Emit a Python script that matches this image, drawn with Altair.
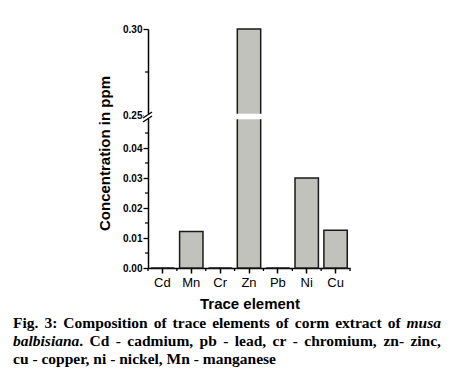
import altair as alt
import pandas as pd

# ---------------- data ----------------
elements = ["Cd", "Mn", "Cr", "Zn", "Pb", "Ni", "Cu"]
concentration = [0.0, 0.0122, 0.0, 0.30, 0.0, 0.030, 0.0126]

y_major_values = [0.0, 0.01, 0.02, 0.03, 0.04, 0.25, 0.30]
y_minor_values = [0.005, 0.015, 0.025, 0.035, 0.045, 0.275]
break_low = 0.05
break_high = 0.25
y_top = 0.30

x_title = "Trace element"
y_title = "Concentration in ppm"
# caption lines: words; "*" marks italic parts, "|" splits a word into parts
caption_line1 = ["Fig.", "3:", "Composition", "of", "trace", "elements", "of", "corm",
                 "extract", "of", "*musa"]
caption_line2 = ["*balbisiana|.", "Cd", "-", "cadmium,", "pb", "-", "lead,", "cr", "-",
                 "chromium,", "zn-", "zinc,"]
caption_line3 = "cu - copper, ni - nickel, Mn - manganese"

df = pd.DataFrame({"element": elements, "value": concentration})
minor_df = pd.DataFrame({"v": y_minor_values})
one = pd.DataFrame({"k": [0]})

# ---------------- layout ----------------
W, H = 202, 239
PAD_L, PAD_T = 140, 21
OX, OY = 8 + PAD_L, 8 + PAD_T  # page position of plot origin
SERIF = "Liberation Serif"
SANS = "Liberation Sans"
CAP_SIZE = 15.5
CAP_LEFT, CAP_RIGHT = 13, 441

# Times bold / bold-italic advance widths (per 1000 em) for justification
TB = {" ": 250, ".": 250, ",": 250, ":": 333, "-": 333, "3": 500, "F": 611, "C": 722,
      "M": 944, "a": 500, "b": 556, "c": 444, "d": 556, "e": 444, "f": 333, "g": 500,
      "h": 556, "i": 278, "k": 556, "l": 278, "m": 833, "n": 556, "o": 500, "p": 556,
      "r": 444, "s": 389, "t": 333, "u": 556, "x": 500, "z": 444}
TBI = {"a": 500, "b": 500, "i": 278, "l": 278, "m": 778, "n": 556, "s": 389, "u": 556}


def word_parts(w):
    parts = []
    for p in w.split("|"):
        if p.startswith("*"):
            parts.append((p[1:], True))
        else:
            parts.append((p, False))
    return parts


def part_width(text, italic):
    table = TBI if italic else TB
    return sum(table.get(ch, 500) for ch in text) / 1000 * CAP_SIZE


def justify(words):
    items = []
    parts_list = [word_parts(w) for w in words]
    widths = [sum(part_width(t, it) for t, it in ps) for ps in parts_list]
    gap = (CAP_RIGHT - CAP_LEFT - sum(widths)) / (len(words) - 1)
    x = CAP_LEFT
    for ps, w in zip(parts_list, widths):
        px = x
        for t, it in ps:
            items.append((t, it, px))
            px += part_width(t, it)
        x += w + gap
    return items


xscale = alt.Scale(domain=elements, paddingInner=0, paddingOuter=0)
yscale = alt.Scale(domain=[0, break_low, break_high, y_top],
                   range=[H, 89, 86, 0], nice=False, zero=False)

xaxis = alt.Axis(title=None, labelAngle=0, labelFont=SANS, labelFontSize=13,
                 labelColor="black", tickColor="black", domainColor="black",
                 tickSize=5, tickWidth=1.5, domainWidth=1.5, labelPadding=3,
                 grid=False)
yaxis = alt.Axis(title=None, values=y_major_values, tickCount=50, labelOverlap=False,
                 format=".2f", labelFont=SANS, labelFontSize=10, labelFontWeight="bold",
                 labelColor="black", tickColor="black", domainColor="black",
                 tickSize=5, tickWidth=1.3, domainWidth=1.5, labelPadding=1, grid=False)

bars = alt.Chart(df).mark_bar(
    width=alt.RelativeBandSize(0.81), fill="#c2c2bc", stroke="#1a1a1a", strokeWidth=1.5
).encode(
    x=alt.X("element:N", scale=xscale, sort=elements, axis=xaxis),
    y=alt.Y("value:Q", scale=yscale, axis=yaxis),
    y2=alt.datum(0),
)

gap = alt.Chart(df).transform_filter("datum.element == 'Zn'").mark_bar(
    width=alt.RelativeBandSize(0.81), fill="white", stroke="white", strokeWidth=2.5
).encode(
    x=alt.X("element:N", scale=xscale, sort=elements),
    y=alt.datum(break_low),
    y2=alt.datum(break_high),
)

minor_y = alt.Chart(minor_df).mark_rule(color="black", strokeWidth=1.2).encode(
    y=alt.Y("v:Q", scale=yscale), x=alt.value(-3), x2=alt.value(0))

axis_gap = alt.Chart(one).mark_rect(fill="white").encode(
    x=alt.value(-4), x2=alt.value(4),
    y=alt.value(85), y2=alt.value(90),
)

slash1 = alt.Chart(one).mark_rule(color="black", strokeWidth=1.3).encode(
    x=alt.value(-5), x2=alt.value(4), y=alt.value(89), y2=alt.value(83))
slash2 = alt.Chart(one).mark_rule(color="black", strokeWidth=1.3).encode(
    x=alt.value(-5), x2=alt.value(4), y=alt.value(93), y2=alt.value(87))

minor_x = alt.Chart(df).mark_rule(color="black", strokeWidth=1.3).encode(
    x=alt.X("element:N", scale=xscale, sort=elements, bandPosition=0),
    y=alt.value(H), y2=alt.value(H + 3),
)
minor_x_end = alt.Chart(one).mark_rule(color="black", strokeWidth=1.3).encode(
    x=alt.value(W), y=alt.value(H), y2=alt.value(H + 3))


def txt(text, x, y, size, font, weight="bold", style="normal", align="left",
        baseline="alphabetic", angle=0):
    return alt.Chart(one).mark_text(
        text=text, font=font, fontSize=size, fontWeight=weight, fontStyle=style,
        align=align, baseline=baseline, angle=angle, color="black"
    ).encode(x=alt.value(x), y=alt.value(y))


ytitle = txt(y_title, 105 - OX, 153.5 - OY, 15, SANS, align="center",
             baseline="middle", angle=270)
xtitle = txt(x_title, 250 - OX, 304 - OY, 15, SANS, align="center", baseline="middle")

line_baselines = [328, 346, 364]
caption_layers = []
for ln, words in enumerate([caption_line1, caption_line2]):
    for t, it, x in justify(words):
        caption_layers.append(txt(t, x - OX, line_baselines[ln] - OY, CAP_SIZE, SERIF,
                                  style="italic" if it else "normal"))
caption_layers.append(txt(caption_line3, CAP_LEFT - OX, line_baselines[2] - OY,
                          CAP_SIZE, SERIF))

chart = alt.layer(
    bars, gap, minor_y, minor_x, minor_x_end, axis_gap, slash1, slash2,
    ytitle, xtitle, *caption_layers
).properties(
    width=W, height=H,
    autosize=alt.AutoSizeParams(type="none"),
    padding={"left": PAD_L, "top": PAD_T, "right": 436 - PAD_L - W, "bottom": 364 - PAD_T - H},
    background="white",
).configure_view(stroke=None)

chart.save("out.html", embed_options={"renderer": "svg", "actions": False})
